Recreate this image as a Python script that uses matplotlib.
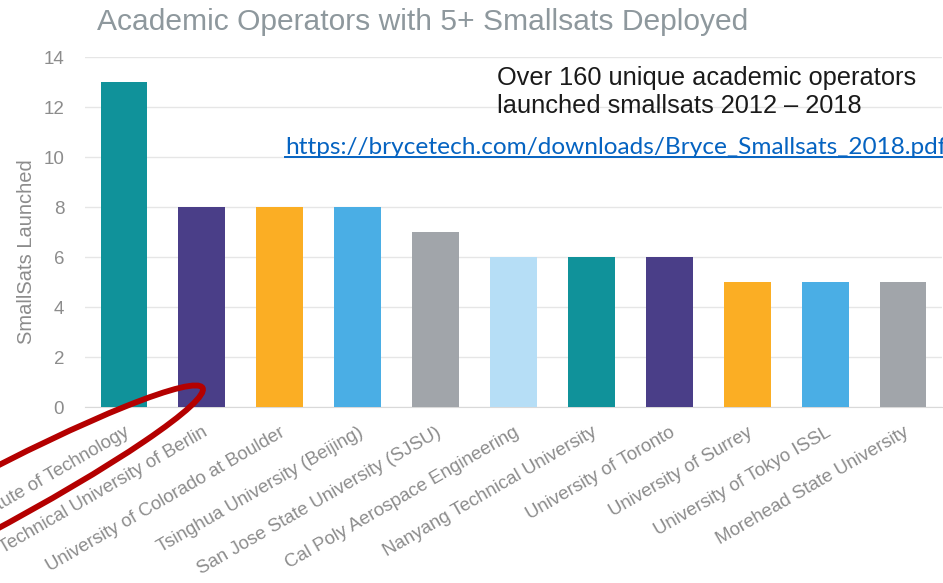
import matplotlib
matplotlib.use("Agg")
import matplotlib.pyplot as plt
from matplotlib.patches import Ellipse
from matplotlib.lines import Line2D

# Daten
operators = [
    "Massachusetts Institute of Technology",
    "Technical University of Berlin",
    "University of Colorado at Boulder",
    "Tsinghua University (Beijing)",
    "San Jose State University (SJSU)",
    "Cal Poly Aerospace Engineering",
    "Nanyang Technical University",
    "University of Toronto",
    "University of Surrey",
    "University of Tokyo ISSL",
    "Morehead State University",
]
launched = [13, 8, 8, 8, 7, 6, 6, 6, 5, 5, 5]
bar_colors = ["#10929A", "#4A3E88", "#FBAE24", "#4AAEE5", "#A1A5AA",
              "#B6DEF6", "#10929A", "#4A3E88", "#FBAE24", "#4AAEE5", "#A1A5AA"]
yticks = [0, 2, 4, 6, 8, 10, 12, 14]

W, H = 943, 583
plt.rcParams['font.family'] = ['Liberation Sans', 'DejaVu Sans']
fig = plt.figure(figsize=(W / 100, H / 100), dpi=100)

# Achsen in Pixelkoordinaten platzieren
left, right, bottom, top = 85, 942, 407, 57
ax = fig.add_axes([left / W, 1 - bottom / H, (right - left) / W, (bottom - top) / H])

x = range(len(operators))
ax.bar(x, launched, width=0.6, color=bar_colors, zorder=3)
ax.set_xlim(-0.5, len(operators) - 0.5)
ax.set_ylim(0, 14)
ax.set_yticks(yticks)
ax.grid(axis='y', color='#E6E6E6', linewidth=1, zorder=0)
for s in ['top', 'right', 'left']:
    ax.spines[s].set_visible(False)
ax.spines['bottom'].set_color('#D9D9D9')
ax.tick_params(axis='both', length=0, colors='#8C8C8C', labelsize=13.5)
ax.tick_params(axis='y', pad=15)
ax.set_xticks(list(x))
ax.set_xticklabels(operators, rotation=30, ha='right', va='top',
                   rotation_mode='anchor', color='#8C8C8C', fontsize=13.4)
ax.tick_params(axis='x', pad=12)
ax.set_ylabel("SmallSats Launched", color='#8C8C8C', fontsize=14.5)
ax.yaxis.set_label_coords(-0.057, 0.443)

def px(xp, yp):
    return xp / W, 1 - yp / H

fig.text(*px(97, 22), "Academic Operators with 5+ Smallsats Deployed",
         color='#8E989D', fontsize=21.6, va='center', ha='left')
fig.text(*px(497, 78), "Over 160 unique academic operators",
         color='#1A1A1A', fontsize=18.3, va='center', ha='left')
fig.text(*px(497, 106), "launched smallsats 2012 \u2013 2018",
         color='#1A1A1A', fontsize=18.3, va='center', ha='left')
url = fig.text(*px(285, 147), "https://brycetech.com/downloads/Bryce_Smallsats_2018.pdf",
               color='#0563C1', fontsize=17.6, va='center', ha='left',
               family=['Lato', 'DejaVu Sans'])

# Unterstreichung des Links
fig.canvas.draw()
bb = url.get_window_extent()
fig.add_artist(Line2D([bb.x0, bb.x1], [bb.y0 + 1, bb.y0 + 1], transform=None,
                      color='#0563C1', linewidth=1.4))

# rote Ellipse (Markierung)
ell = Ellipse((-27 / 100, (H - 510) / 100), width=2 * 260 / 100, height=2 * 28 / 100,
              angle=28, transform=fig.dpi_scale_trans, fill=False,
              edgecolor='#B40000', linewidth=4.2, zorder=10)
fig.add_artist(ell)

fig.savefig("out.png", dpi=100)
